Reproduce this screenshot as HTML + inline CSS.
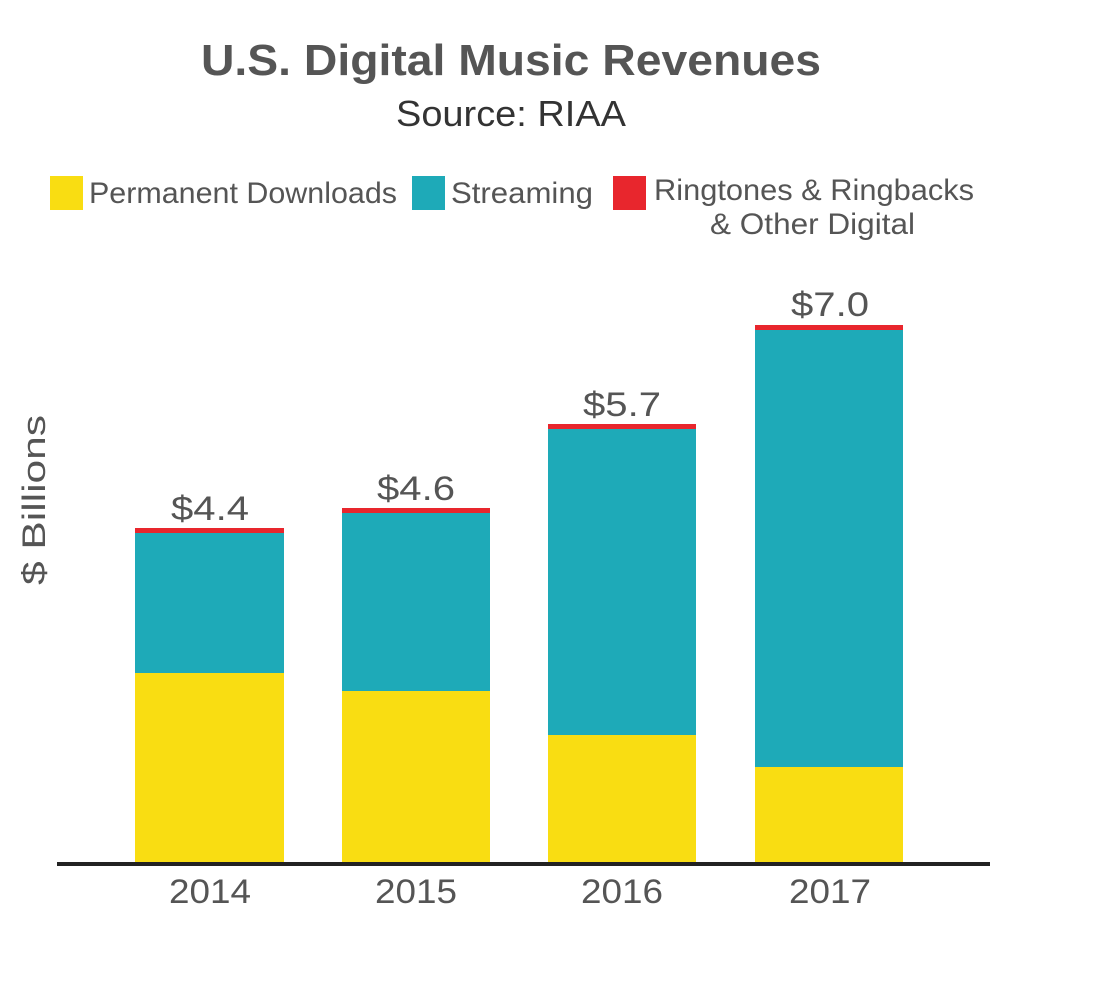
<!DOCTYPE html>
<html><head><meta charset="utf-8"><style>
body{margin:0;background:#fff;width:1109px;height:991px;overflow:hidden}
svg text{font-family:"Liberation Sans",sans-serif;fill:#555}
</style></head><body>
<svg width="1109" height="991" xmlns="http://www.w3.org/2000/svg">
<text x="511" y="75" font-size="44" font-weight="bold" text-anchor="middle" textLength="620" lengthAdjust="spacingAndGlyphs">U.S. Digital Music Revenues</text>
<text x="511" y="126" font-size="36" text-anchor="middle" textLength="230" lengthAdjust="spacingAndGlyphs" fill="#333" style="fill:#333">Source: RIAA</text>
<rect x="50" y="176" width="33" height="34" fill="#f9dd12"/>
<text x="89" y="203" font-size="30" textLength="308" lengthAdjust="spacingAndGlyphs">Permanent Downloads</text>
<rect x="412" y="176" width="33" height="34" fill="#1eaab8"/>
<text x="451" y="203" font-size="30" textLength="142" lengthAdjust="spacingAndGlyphs">Streaming</text>
<rect x="613" y="176" width="33" height="34" fill="#e8262d"/>
<text x="654" y="200" font-size="30" textLength="320" lengthAdjust="spacingAndGlyphs">Ringtones &amp; Ringbacks</text>
<text x="710" y="234" font-size="30" textLength="205" lengthAdjust="spacingAndGlyphs">&amp; Other Digital</text>
<text transform="translate(45,500) rotate(-90)" font-size="32" text-anchor="middle" textLength="170" lengthAdjust="spacingAndGlyphs">$ Billions</text>
<g>
<rect x="135" y="528" width="149" height="5" fill="#e8262d"/><rect x="135" y="533" width="149" height="140" fill="#1eaab8"/><rect x="135" y="673" width="149" height="191" fill="#f9dd12"/>
<rect x="342" y="508" width="148" height="5" fill="#e8262d"/><rect x="342" y="513" width="148" height="178" fill="#1eaab8"/><rect x="342" y="691" width="148" height="173" fill="#f9dd12"/>
<rect x="548" y="424" width="148" height="5" fill="#e8262d"/><rect x="548" y="429" width="148" height="306" fill="#1eaab8"/><rect x="548" y="735" width="148" height="129" fill="#f9dd12"/>
<rect x="755" y="325" width="148" height="5" fill="#e8262d"/><rect x="755" y="330" width="148" height="437" fill="#1eaab8"/><rect x="755" y="767" width="148" height="97" fill="#f9dd12"/>
</g>
<rect x="57" y="862" width="933" height="4" fill="#222"/>
<g font-size="34" text-anchor="middle">
<text x="210" y="520" textLength="78" lengthAdjust="spacingAndGlyphs">$4.4</text>
<text x="416" y="500" textLength="78" lengthAdjust="spacingAndGlyphs">$4.6</text>
<text x="622" y="416" textLength="78" lengthAdjust="spacingAndGlyphs">$5.7</text>
<text x="830" y="316" textLength="78" lengthAdjust="spacingAndGlyphs">$7.0</text>
<text x="210" y="903" textLength="82" lengthAdjust="spacingAndGlyphs">2014</text>
<text x="416" y="903" textLength="82" lengthAdjust="spacingAndGlyphs">2015</text>
<text x="622" y="903" textLength="82" lengthAdjust="spacingAndGlyphs">2016</text>
<text x="830" y="903" textLength="82" lengthAdjust="spacingAndGlyphs">2017</text>
</g>
</svg>
</body></html>
